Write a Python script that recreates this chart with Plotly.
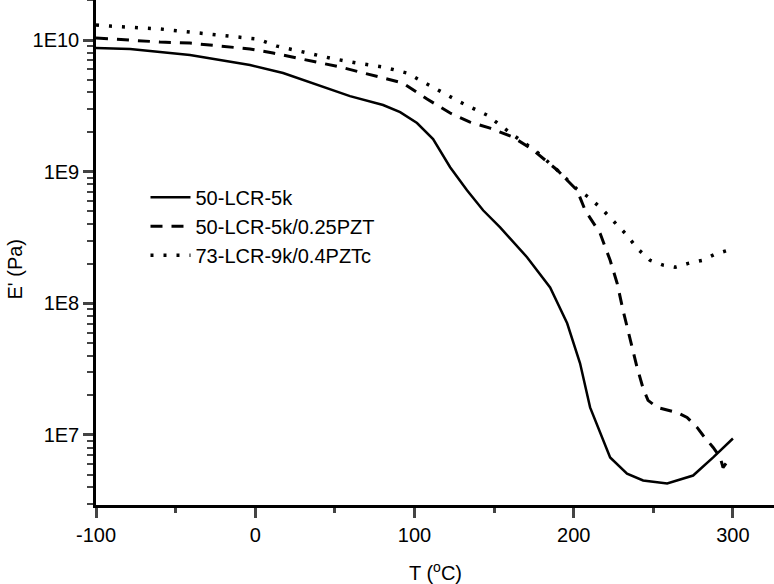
import plotly.graph_objects as go

# 50-LCR-5k
t_a = [-100, -78.6, -41, -15.8, -3.3, 17.5, 38.8, 59.5, 80.3, 91, 101.6, 111.7, 122.4, 133,
       143.1, 153.8, 170.7, 185.2, 195.9, 204, 210.3, 216.6, 222.9, 233.5, 243.6, 258.7,
       275, 287.6, 300]
e_a = [8.69e9, 8.55e9, 7.69e9, 6.81e9, 6.46e9, 5.61e9, 4.55e9, 3.75e9, 3.21e9, 2.83e9,
       2.34e9, 1.77e9, 1.08e9, 7.23e8, 5.09e8, 3.78e8, 2.24e8, 1.32e8, 7.05e7, 3.50e7,
       1.62e7, 1.03e7, 6.75e6, 5.09e6, 4.51e6, 4.28e6, 4.92e6, 6.75e6, 9.40e6]

# 50-LCR-5k/0.25PZT
t_b = [-100, -91.2, -59.8, -41, -3.3, 11.2, 26.3, 38.8, 53.3, 65.8, 80.3, 92.8, 107.9,
       122.4, 134.9, 147.5, 161.9, 174.5, 189.6, 202.1, 207.2, 216.6, 222.9, 227.3, 231,
       235.4, 239.8, 243.6, 246.7, 252.4, 265, 271.2, 277.5, 281.3, 287.6, 292, 293.8, 297]
e_b = [1.035e10, 1.018e10, 9.66e9, 9.48e9, 8.55e9, 7.96e9, 7.29e9, 6.81e9, 6.24e9, 5.71e9,
       5.14e9, 4.71e9, 3.56e9, 2.79e9, 2.38e9, 2.14e9, 1.83e9, 1.46e9, 1.03e9, 7.23e8,
       5.09e8, 3.40e8, 2.12e8, 1.42e8, 8.85e7, 5.24e7, 3.26e7, 2.26e7, 1.83e7, 1.62e7,
       1.48e7, 1.36e7, 1.14e7, 9.91e6, 8.04e6, 6.75e6, 5.66e6, 6.40e6]

# 73-LCR-9k/0.4PZTc
t_c = [-100, -91.2, -59.8, -34.7, -13.9, 1.1, 13.7, 30, 47, 63.9, 80.3, 95.4, 111.7, 128.6,
       145.6, 161.9, 177, 189.6, 202.1, 210.3, 218.5, 226, 233.5, 239.8, 248, 256.2, 263.7,
       271.9, 280.7, 288.8, 297]
e_c = [1.30e10, 1.276e10, 1.213e10, 1.130e10, 1.054e10, 1.018e10, 8.99e9, 8.11e9, 7.29e9,
       6.68e9, 6.24e9, 5.61e9, 4.40e9, 3.38e9, 2.69e9, 1.90e9, 1.41e9, 1.03e9, 7.36e8,
       6.28e8, 5.09e8, 4.06e8, 3.29e8, 2.62e8, 2.12e8, 1.95e8, 1.88e8, 2.01e8, 2.12e8,
       2.36e8, 2.53e8]

names = ["50-LCR-5k", "50-LCR-5k/0.25PZT", "73-LCR-9k/0.4PZTc"]
x_ticks = [-100, 0, 100, 200, 300]
x_ticktext = ["-100", "0", "100", "200", "300"]
y_ticks = [1e7, 1e8, 1e9, 1e10]
y_ticktext = ["1E7", "1E8", "1E9", "1E10"]

FONT = "Arial, Liberation Sans, sans-serif"

fig = go.Figure()
fig.add_trace(go.Scatter(x=t_a, y=e_a, mode="lines", name=names[0], legendgroup="a",
                         line=dict(color="black", width=2.5)))
fig.add_trace(go.Scatter(x=t_b, y=e_b, mode="lines", name=names[1], legendgroup="b",
                         line=dict(color="black", width=3, dash="12px,9px")))
fig.add_trace(go.Scatter(x=t_c, y=e_c, mode="lines", name=names[2], legendgroup="c",
                         line=dict(color="black", width=3.5, dash="3px,10px")))

fig.update_layout(
    width=774, height=584,
    margin=dict(l=96, r=0, t=0, b=79),
    paper_bgcolor="white", plot_bgcolor="white",
    font=dict(family=FONT, size=20, color="black"),
    showlegend=True,
    legend=dict(x=0.073, y=0.648, xanchor="left", yanchor="top",
                bgcolor="rgba(0,0,0,0)", font=dict(size=20), tracegroupgap=0,
                itemwidth=40),
    annotations=[
        dict(text="E' (Pa)", xref="paper", yref="paper", x=-0.119, y=0.467,
             textangle=-90, showarrow=False, font=dict(size=20),
             xanchor="center", yanchor="middle"),
        dict(text="T (<sup>o</sup>C)", xref="paper", yref="paper", x=0.5, y=-0.131,
             showarrow=False, font=dict(size=20), xanchor="center", yanchor="middle"),
    ],
)

fig.update_xaxes(
    range=[-100, 325.8], tickvals=x_ticks, ticktext=x_ticktext, ticks="outside",
    ticklen=10, tickwidth=2.5,
    showline=True, linewidth=2.5, linecolor="black", showgrid=False, zeroline=False,
    minor=dict(ticks="outside", ticklen=5, tickwidth=2.5, dtick=50, tick0=-100),
    tickfont=dict(size=20),
)
fig.update_yaxes(
    type="log", range=[6.468, 10.304], tickvals=y_ticks, ticktext=y_ticktext,
    ticks="outside", ticklen=10, tickwidth=2.5,
    showline=True, linewidth=2.5, linecolor="black", showgrid=False, zeroline=False,
    minor=dict(ticks="outside", ticklen=6, tickwidth=2, dtick="D1"),
    tickfont=dict(size=20),
)

fig.write_html("out.html", config={"displayModeBar": False},
               post_script="document.body.style.margin='0';")
